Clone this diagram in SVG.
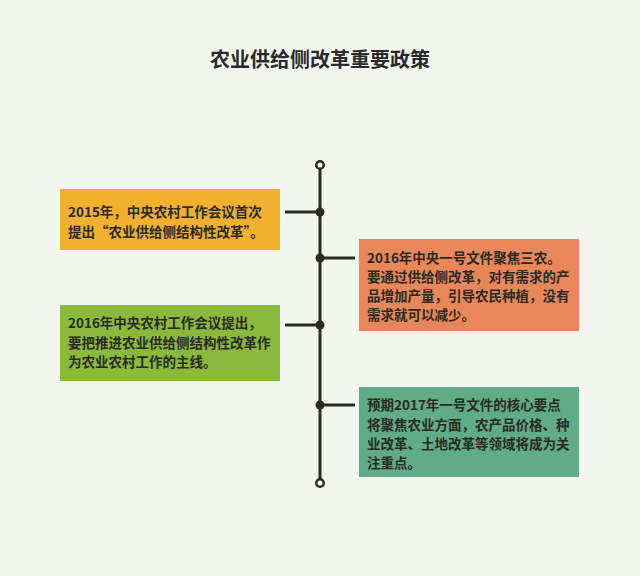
<svg xmlns="http://www.w3.org/2000/svg" width="640" height="576" viewBox="0 0 640 576">
<style>
.t{font-family:"Noto Sans CJK SC","Liberation Sans",sans-serif;font-weight:bold;fill:#2a2a22;font-size:13.5px}
.title{font-family:"Noto Sans CJK SC","Liberation Sans",sans-serif;font-weight:bold;fill:#2a2a2a;font-size:20px}
.ln{stroke:#2b2b26;stroke-width:3;fill:none}
.dot{fill:#2b2b26}
.end{fill:#f3f6ef;stroke:#2b2b26;stroke-width:2.5}
</style>
<rect width="640" height="576" fill="#f3f6ef"/>
<text class="title" x="320" y="67" text-anchor="middle">农业供给侧改革重要政策</text>
<g id="connectors">
<line class="ln" x1="320" y1="168" x2="320" y2="480"/>
<line class="ln" x1="285" y1="212" x2="320" y2="212"/>
<line class="ln" x1="320" y1="258" x2="355" y2="258"/>
<line class="ln" x1="285" y1="325" x2="320" y2="325"/>
<line class="ln" x1="320" y1="405" x2="355" y2="405"/>
<circle class="dot" cx="320" cy="212" r="4.5"/>
<circle class="dot" cx="320" cy="258" r="4.5"/>
<circle class="dot" cx="320" cy="325" r="4.5"/>
<circle class="dot" cx="320" cy="405" r="4.5"/>
<circle class="end" cx="320" cy="165" r="3.8"/>
<circle class="end" cx="320" cy="483" r="3.8"/>
</g>
<g id="box1">
<rect x="60" y="189" width="220" height="61" fill="#f3b02f"/>
<text class="t" x="68" y="217">2015年，中央农村工作会议首次</text>
<text class="t" x="68" y="237">提出“农业供给侧结构性改革”。</text>
</g>
<g id="box2">
<rect x="359" y="239" width="220" height="92" fill="#e8875a"/>
<text class="t" x="367" y="263">2016年中央一号文件聚焦三农。</text>
<text class="t" x="367" y="282">要通过供给侧改革，对有需求的产</text>
<text class="t" x="367" y="301">品增加产量，引导农民种植，没有</text>
<text class="t" x="367" y="320">需求就可以减少。</text>
</g>
<g id="box3">
<rect x="60" y="305" width="220" height="76" fill="#8bba3b"/>
<text class="t" x="68" y="328">2016年中央农村工作会议提出，</text>
<text class="t" x="68" y="348">要把推进农业供给侧结构性改革作</text>
<text class="t" x="68" y="367">为农业农村工作的主线。</text>
</g>
<g id="box4">
<rect x="359" y="387" width="220" height="90" fill="#5fac87"/>
<text class="t" x="367" y="410">预期2017年一号文件的核心要点</text>
<text class="t" x="367" y="430">将聚焦农业方面，农产品价格、种</text>
<text class="t" x="367" y="449">业改革、土地改革等领域将成为关</text>
<text class="t" x="367" y="468">注重点。</text>
</g>
</svg>
